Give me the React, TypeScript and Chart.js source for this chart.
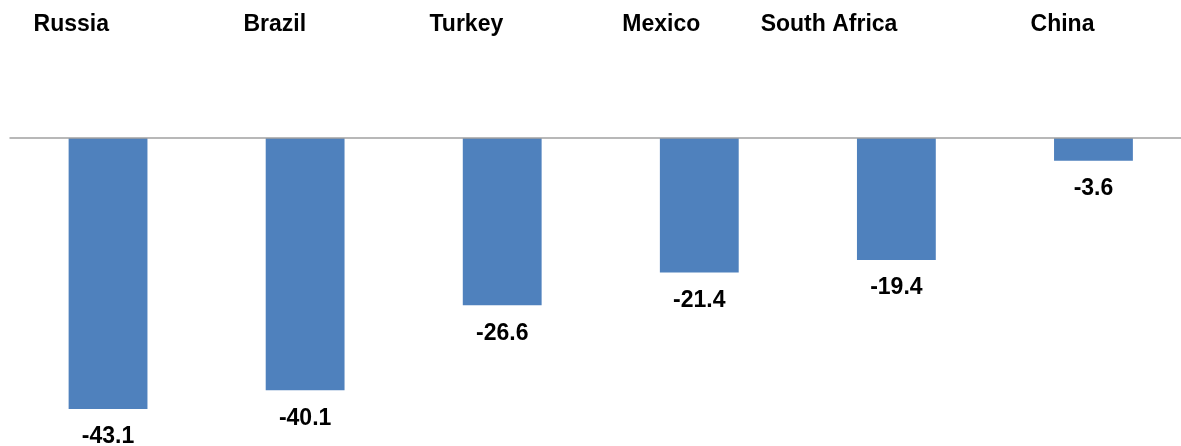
import React, { useEffect, useRef } from "react";
import { Chart, registerables } from "chart.js";

Chart.register(...registerables);

const categories = ["Russia", "Brazil", "Turkey", "Mexico", "South Africa", "China"];
const values = [-43.1, -40.1, -26.6, -21.4, -19.4, -3.6];
const valueLabels = ["-43.1", "-40.1", "-26.6", "-21.4", "-19.4", "-3.6"];

const FONT = "bold 23px 'Liberation Sans', Arial, sans-serif";

const overlay = {
  id: "overlay",
  afterDatasetsDraw(chart: any) {
    const ctx = chart.ctx;
    const x = chart.scales.x;
    const y = chart.scales.y;
    const y0 = y.getPixelForValue(0);
    ctx.save();
    ctx.strokeStyle = "#a0a0a0";
    ctx.lineWidth = 1.5;
    ctx.beginPath();
    ctx.moveTo(chart.chartArea.left, y0);
    ctx.lineTo(chart.width, y0);
    ctx.stroke();
    ctx.fillStyle = "#000";
    ctx.font = FONT;
    categories.forEach((c, i) => {
      const cx = x.getPixelForValue(i);
      ctx.textAlign = "right";
      ctx.textBaseline = "alphabetic";
      ctx.fillText(c, cx + 1, 31);
      const by = y.getPixelForValue(values[i]);
      ctx.textAlign = "center";
      ctx.textBaseline = "middle";
      ctx.fillText(valueLabels[i], cx, by + 28);
    });
    ctx.restore();
  },
};

export default function App() {
  const ref = useRef<HTMLCanvasElement>(null);
  useEffect(() => {
    document.body.style.margin = "0";
    const chart = new Chart(ref.current!, {
      type: "bar",
      data: {
        labels: categories,
        datasets: [
          {
            data: values,
            backgroundColor: "#4f81bd",
            borderWidth: 0,
            barPercentage: 0.8,
            categoryPercentage: 0.5,
          },
        ],
      },
      options: {
        animation: false,
        responsive: false,
        devicePixelRatio: 1,
        layout: { padding: { left: 9.5, right: 0, top: 0, bottom: 0 } },
        plugins: { legend: { display: false }, tooltip: { enabled: false } },
        scales: {
          x: { display: false, offset: true },
          y: { display: false, min: -48.97, max: 21.94 },
        },
      },
      plugins: [overlay],
    });
    return () => chart.destroy();
  }, []);
  return (
    <div style={{ width: 1181, height: 446, overflow: "hidden", position: "relative" }}>
      <canvas ref={ref} width={1192} height={446} style={{ display: "block" }} />
    </div>
  );
}
